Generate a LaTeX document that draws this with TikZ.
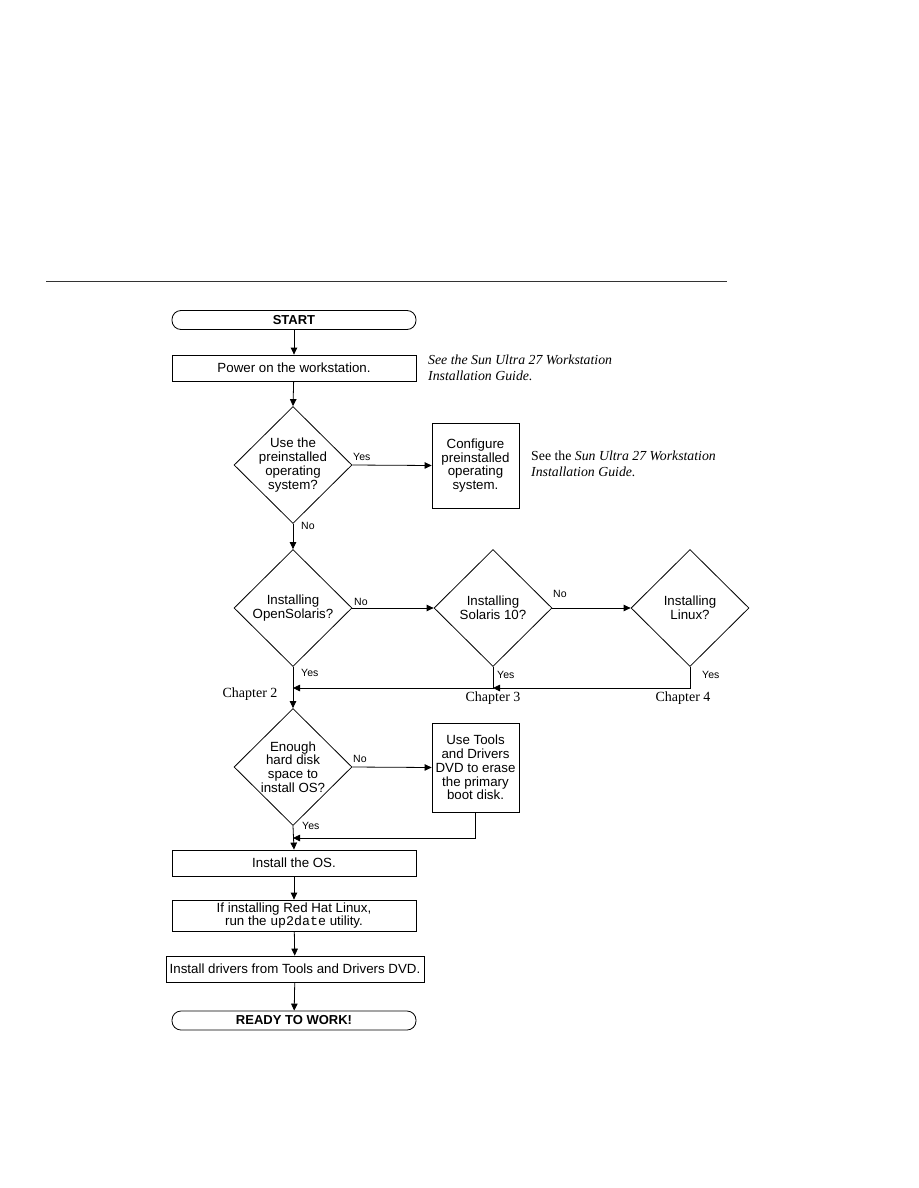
\documentclass[tikz,border=0pt]{standalone}
\usepackage{fontspec}
\setmainfont{Liberation Sans}
\setmonofont{Liberation Mono}
\newfontfamily\notefont{Liberation Serif}
\usetikzlibrary{shapes.geometric,arrows.meta}
\begin{document}
\begin{tikzpicture}[x=1pt,y=-1pt,
  every node/.style={font=\fontsize{13.3}{13.8}\selectfont},
  box/.style={draw,line width=0.8pt,minimum width=244pt,minimum height=26pt,inner sep=0pt,align=center},
  term/.style={draw,line width=0.8pt,rounded corners=9pt,minimum width=244pt,minimum height=19pt,inner sep=0pt,font=\fontsize{13}{13}\selectfont\bfseries},
  dia/.style={draw,line width=0.8pt,diamond,minimum width=118pt,minimum height=117pt,inner sep=0pt},
  sbox/.style={draw,line width=0.8pt,minimum width=87pt,inner sep=0pt,align=center},
  dtext/.style={align=center,inner sep=0pt},
  lbl/.style={font=\fontsize{10.5}{11}\selectfont,inner sep=0pt,anchor=west},
  note/.style={font=\notefont\fontsize{13.8}{16}\selectfont,align=left,anchor=west,inner sep=0pt},
  chap/.style={font=\notefont\fontsize{14}{14}\selectfont,inner sep=0pt},
  arr/.style={line width=0.8pt,-{Triangle[length=7pt,width=6.5pt]}},
  ln/.style={line width=0.8pt}]
\useasboundingbox (0,0) rectangle (918,1188);
\fill[white] (0,0) rectangle (918,1188);
\coordinate (r1) at (46,281);
\coordinate (r2) at (727,281);
\draw[line width=0.7pt,black!80] (r1) -- (r2);

\node[term] (start) at (294,320) {START};
\node[box] (power) at (294,368) {Power on the workstation.};
\node[note] (n1) at (428,368) {\itshape See the Sun Ultra 27 Workstation\\\itshape Installation Guide.};

\node[dia] (d1) at (293,465) {};
\node[dtext] (d1t) at (293,465) {Use the\\preinstalled\\operating\\system?};
\node[sbox,minimum height=85pt] (cfg) at (475.5,465.5) {Configure\\preinstalled\\operating\\system.};
\node[note] (n2) at (531,464) {See the \itshape Sun Ultra 27 Workstation\\\itshape Installation Guide.};

\node[dia] (d2) at (293,608) {};
\node[dtext] (d2t) at (293,608) {Installing\\OpenSolaris?};
\node[dia] (d3) at (493,608) {};
\node[dtext] (d3t) at (493,608) {Installing\\Solaris 10?};
\node[dia] (d4) at (690,608) {};
\node[dtext] (d4t) at (690,608) {Installing\\Linux?};

\node[chap] (c2) at (250,694) {Chapter 2};
\node[chap] (c3) at (493,698) {Chapter 3};
\node[chap] (c4) at (683,698) {Chapter 4};

\node[dia] (d5) at (293,767) {};
\node[dtext] (d5t) at (293,767) {Enough\\hard disk\\space to\\install OS?};
\node[sbox,minimum height=89pt] (tools) at (475.5,767.5) {Use Tools\\and Drivers\\DVD to erase\\the primary\\boot disk.};

\node[box] (os) at (294,863) {Install the OS.};
\node[box,minimum height=31pt] (rh) at (294,915.5) {If installing Red Hat Linux,\\run the \texttt{up2date} utility.};
\node[box,minimum width=258pt] (drv) at (295,969) {Install drivers from Tools and Drivers DVD.};
\node[term] (ready) at (294,1020.5) {READY TO WORK!};

% connectors
\draw[arr] (start) -- (power);
\draw[arr] (power) -- (d1.north);
\draw[arr] (d1.east) -- (cfg.west);
\node[lbl] (y1) at (353,457) {Yes};
\draw[arr] (d1.south) -- (d2.north);
\node[lbl] (no1) at (301,526) {No};
\draw[arr] (d2.east) -- (d3.west);
\node[lbl] (no2) at (354,602) {No};
\draw[arr] (d3.east) -- (d4.west);
\node[lbl] (no3) at (553,594) {No};

\coordinate (j3) at (493,688);
\coordinate (j2) at (293,688);
\draw[arr] (d4.south) |- (j3);
\draw[arr] (d3.south) |- (j2);
\node[lbl] (y2) at (301,673) {Yes};
\node[lbl] (y3) at (497,675) {Yes};
\node[lbl] (y4) at (702,675) {Yes};

\draw[arr] (d2.south) -- (d5.north);
\draw[arr] (d5.east) -- (tools.west);
\node[lbl] (no4) at (353,759) {No};
\coordinate (j5) at (293,838);
\draw[arr] (tools.south) |- (j5);
\node[lbl] (y5) at (302,826) {Yes};
\draw[arr] (d5.south) -- (os.north);
\draw[arr] (os) -- (rh);
\draw[arr] (rh) -- (drv);
\draw[arr] (drv) -- (ready);
\end{tikzpicture}
\end{document}
